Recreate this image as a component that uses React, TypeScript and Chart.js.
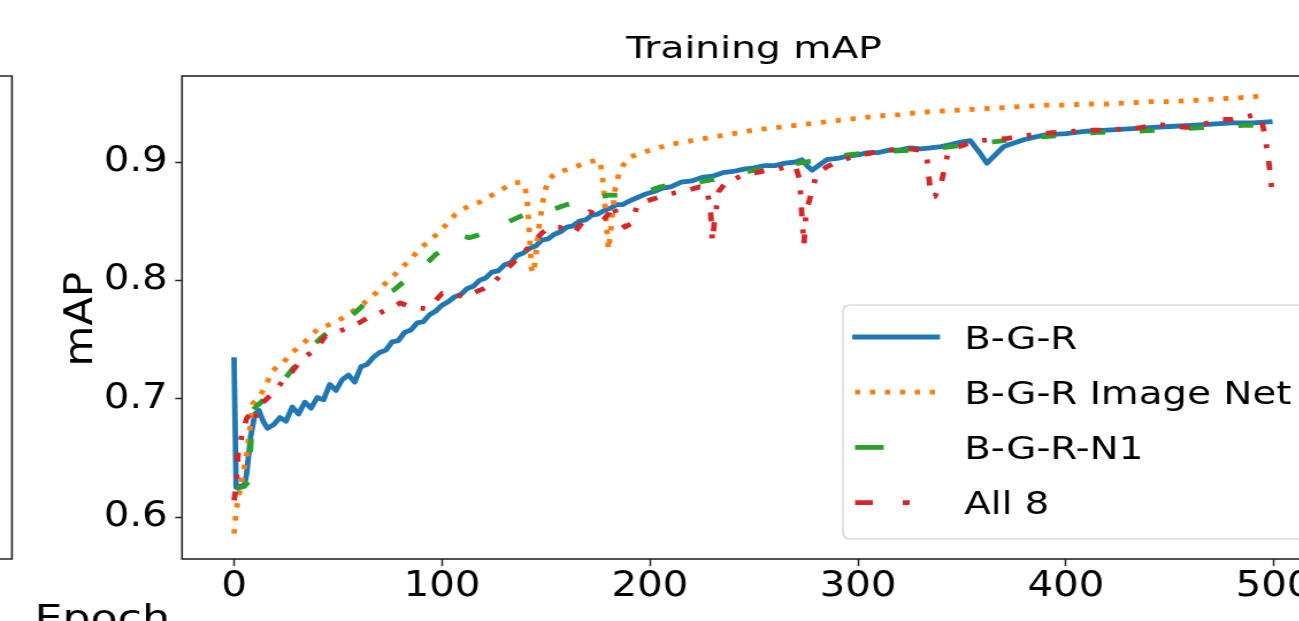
import React, { useEffect, useRef } from "react";
import { Chart, registerables } from "chart.js";

Chart.register(...registerables);

// ---------- data ----------
const chartTitle = "Training mAP";
const yAxisLabel = "mAP";
const neighbourXLabel = "Epoch";
const xTickValues = [0, 100, 200, 300, 400, 500];
const yTickValues = [0.6, 0.7, 0.8, 0.9];
const seriesNames = ["B-G-R", "B-G-R Image Net", "B-G-R-N1", "All 8"];
const seriesColors = ["#1f77b4", "#ff7f0e", "#2ca02c", "#d62728"];

// [epoch, mAP]
const bgr: [number, number][] = [
  [0, 0.733], [1, 0.625], [3, 0.626], [5, 0.627], [6, 0.636], [8, 0.668], [10, 0.687], [12, 0.69],
  [14, 0.681], [16, 0.675], [19, 0.678], [22, 0.684], [25, 0.681], [28, 0.693], [31, 0.687], [34, 0.697],
  [37, 0.692], [40, 0.701], [43, 0.699], [46, 0.712], [49, 0.707], [52, 0.716], [55, 0.72], [58, 0.714],
  [61, 0.727], [64, 0.729], [67, 0.735], [70, 0.739], [73, 0.741], [76, 0.748], [79, 0.749], [82, 0.756],
  [85, 0.758], [88, 0.764], [91, 0.765], [94, 0.771], [97, 0.774], [100, 0.779], [103, 0.782], [106, 0.786],
  [109, 0.788], [112, 0.793], [115, 0.795], [118, 0.8], [121, 0.802], [124, 0.807], [127, 0.808], [130, 0.813],
  [133, 0.815], [136, 0.821], [139, 0.823], [142, 0.827], [145, 0.829], [148, 0.834], [151, 0.835], [154, 0.839],
  [157, 0.841], [160, 0.845], [163, 0.846], [166, 0.85], [169, 0.851], [172, 0.855], [175, 0.856], [178, 0.859],
  [181, 0.861], [184, 0.864], [187, 0.864], [190, 0.867], [194, 0.87], [198, 0.873], [202, 0.875], [206, 0.878],
  [210, 0.879], [215, 0.883], [220, 0.884], [225, 0.887], [230, 0.888], [235, 0.891], [240, 0.892], [245, 0.894],
  [250, 0.895], [255, 0.897], [260, 0.897], [265, 0.899], [270, 0.9], [273, 0.902], [276, 0.896], [278, 0.893],
  [281, 0.897], [285, 0.902], [290, 0.903], [295, 0.905], [300, 0.906], [305, 0.908], [310, 0.908], [315, 0.91],
  [320, 0.91], [325, 0.912], [330, 0.911], [335, 0.912], [340, 0.913], [345, 0.915], [350, 0.917], [354, 0.918],
  [358, 0.909], [362, 0.899], [366, 0.906], [370, 0.913], [375, 0.916], [380, 0.919], [385, 0.921], [390, 0.923],
  [400, 0.924], [410, 0.926], [420, 0.927], [430, 0.928], [440, 0.929], [450, 0.93], [460, 0.931], [470, 0.932],
  [480, 0.933], [490, 0.933], [498, 0.934],
];

const bgrImageNet: [number, number][] = [
  [0, 0.586], [1, 0.605], [2, 0.615], [4, 0.634], [6, 0.652], [8, 0.68], [9, 0.696], [12, 0.701],
  [15, 0.71], [18, 0.722], [21, 0.728], [24, 0.731], [27, 0.738], [30, 0.742], [34, 0.748], [38, 0.755],
  [41, 0.76], [45, 0.762], [50, 0.766], [54, 0.77], [58, 0.775], [62, 0.78], [66, 0.786], [70, 0.792],
  [74, 0.8], [78, 0.806], [82, 0.813], [86, 0.82], [90, 0.828], [94, 0.833], [98, 0.84], [102, 0.847],
  [106, 0.855], [110, 0.86], [114, 0.864], [118, 0.866], [122, 0.87], [126, 0.874], [130, 0.878], [134, 0.882],
  [138, 0.883], [140, 0.878], [141, 0.865], [142, 0.84], [143, 0.81], [144, 0.806], [145, 0.82], [147, 0.85],
  [149, 0.872], [151, 0.885], [155, 0.891], [159, 0.893], [163, 0.895], [167, 0.898], [171, 0.9], [175, 0.902],
  [176, 0.9], [177, 0.89], [178, 0.872], [179, 0.848], [180, 0.826], [181, 0.84], [183, 0.875], [185, 0.89],
  [187, 0.897], [190, 0.904], [195, 0.907], [200, 0.91], [210, 0.915], [220, 0.918], [230, 0.921], [240, 0.924],
  [250, 0.927], [260, 0.929], [270, 0.931], [280, 0.933], [290, 0.935], [300, 0.937], [310, 0.939], [320, 0.94],
  [330, 0.942], [340, 0.943], [350, 0.944], [360, 0.945], [370, 0.946], [380, 0.947], [390, 0.948], [400, 0.948],
  [410, 0.949], [420, 0.949], [430, 0.95], [440, 0.951], [450, 0.951], [460, 0.952], [470, 0.953], [480, 0.954],
  [490, 0.955], [497, 0.957],
];

const bgrN1: [number, number][] = [
  [1, 0.624], [3, 0.625], [5, 0.626], [7, 0.63], [8, 0.66], [9, 0.69], [11, 0.694], [13, 0.697],
  [17, 0.705], [21, 0.712], [25, 0.718], [29, 0.727], [33, 0.736], [37, 0.743], [41, 0.75], [45, 0.756],
  [49, 0.76], [53, 0.766], [57, 0.771], [61, 0.777], [65, 0.785], [69, 0.788], [73, 0.789], [77, 0.792],
  [81, 0.798], [85, 0.803], [89, 0.809], [93, 0.815], [97, 0.822], [101, 0.826], [105, 0.83], [109, 0.838],
  [113, 0.836], [117, 0.838], [121, 0.841], [125, 0.846], [130, 0.848], [135, 0.852], [140, 0.856], [145, 0.855],
  [150, 0.858], [155, 0.861], [160, 0.864], [165, 0.866], [170, 0.868], [175, 0.87], [180, 0.872], [185, 0.872],
  [190, 0.873], [195, 0.874], [200, 0.876], [205, 0.879], [210, 0.881], [220, 0.882], [230, 0.885], [240, 0.889],
  [250, 0.893], [260, 0.895], [268, 0.898], [275, 0.9], [285, 0.903], [295, 0.906], [305, 0.908], [315, 0.909],
  [325, 0.91], [335, 0.911], [345, 0.913], [355, 0.915], [365, 0.917], [375, 0.919], [385, 0.921], [395, 0.922],
  [405, 0.923], [415, 0.925], [425, 0.925], [435, 0.926], [445, 0.927], [455, 0.928], [465, 0.929], [475, 0.93],
  [485, 0.931], [497, 0.931],
];

const all8: [number, number][] = [
  [0, 0.614], [1, 0.625], [2, 0.655], [4, 0.671], [6, 0.683], [8, 0.688], [10, 0.682], [12, 0.694],
  [14, 0.697], [17, 0.702], [20, 0.707], [23, 0.714], [26, 0.72], [28, 0.723], [31, 0.73], [34, 0.735],
  [37, 0.739], [41, 0.746], [44, 0.753], [48, 0.755], [52, 0.758], [56, 0.761], [60, 0.764], [64, 0.768],
  [68, 0.771], [72, 0.774], [76, 0.777], [80, 0.781], [84, 0.778], [88, 0.777], [92, 0.776], [96, 0.781],
  [100, 0.789], [104, 0.788], [108, 0.787], [112, 0.786], [116, 0.79], [120, 0.793], [124, 0.797], [128, 0.804],
  [132, 0.811], [136, 0.818], [140, 0.825], [144, 0.832], [148, 0.84], [152, 0.845], [156, 0.845], [160, 0.843],
  [164, 0.841], [167, 0.848], [171, 0.858], [174, 0.856], [177, 0.85], [180, 0.856], [182, 0.864], [185, 0.852],
  [188, 0.845], [191, 0.848], [194, 0.864], [200, 0.868], [206, 0.871], [212, 0.874], [218, 0.876], [224, 0.879],
  [227, 0.878], [229, 0.862], [230, 0.833], [231, 0.85], [233, 0.875], [237, 0.884], [241, 0.886], [246, 0.89],
  [251, 0.891], [256, 0.893], [261, 0.894], [266, 0.896], [270, 0.896], [272, 0.885], [273, 0.855], [274, 0.83],
  [275, 0.858], [277, 0.87], [280, 0.889], [285, 0.896], [290, 0.9], [295, 0.903], [300, 0.906], [305, 0.907],
  [310, 0.909], [315, 0.91], [320, 0.911], [325, 0.911], [330, 0.91], [333, 0.906], [335, 0.872], [337, 0.871],
  [340, 0.882], [343, 0.906], [347, 0.912], [352, 0.915], [358, 0.918], [365, 0.919], [372, 0.92], [380, 0.922],
  [388, 0.924], [396, 0.925], [404, 0.926], [412, 0.927], [420, 0.927], [428, 0.928], [436, 0.929], [444, 0.932],
  [452, 0.93], [460, 0.929], [468, 0.933], [474, 0.936], [480, 0.936], [486, 0.938], [491, 0.94], [494, 0.936],
  [496, 0.919], [498, 0.893], [499, 0.876],
];

// ---------- styling / layout ----------
const FONT = "'DejaVu Sans', sans-serif";
const STRETCH = 1.15; // reference image is stretched horizontally
const CANVAS_W = 1160;
const CANVAS_H = 621;
const LINE_W = 4.8;
const plotDashes: number[][] = [[], [4.5, 8.5], [13, 30], [9, 13, 4, 13]];
const legendDashes: number[][] = [[], [4.5, 8.5], [25, 80], [15.5, 26, 6, 60]];

// draw text widened along its reading direction
function wideText(ctx: any, text: string, x: number, y: number, size: number, sx: number, align: string, rot = 0) {
  ctx.save();
  ctx.translate(x, y);
  if (rot) ctx.rotate(rot);
  ctx.scale(sx, 1);
  ctx.font = `${size}px ${FONT}`;
  ctx.textAlign = align;
  ctx.fillStyle = "#000000";
  ctx.fillText(text, 0, 0);
  ctx.restore();
}

const decorPlugin = {
  id: "decor",
  beforeDraw(chart: any) {
    const { ctx, width, height } = chart;
    ctx.save();
    ctx.fillStyle = "#ffffff";
    ctx.fillRect(0, 0, width, height);
    ctx.restore();
  },
  afterDatasetsDraw(chart: any) {
    const { ctx, chartArea: a } = chart;
    ctx.save();
    // axes frame
    ctx.strokeStyle = "#262626";
    ctx.lineWidth = 1.6;
    ctx.strokeRect(a.left, a.top, a.right - a.left, a.bottom - a.top);
    // neighbouring subplot's right edge
    ctx.beginPath();
    ctx.moveTo(-5, a.top);
    ctx.lineTo(10.4, a.top);
    ctx.lineTo(10.4, a.bottom);
    ctx.lineTo(-5, a.bottom);
    ctx.stroke();

    // legend
    const bx = 733, by = 305, bw = 500, bh = 234, r = 6;
    ctx.beginPath();
    ctx.moveTo(bx + r, by);
    ctx.lineTo(bx + bw - r, by);
    ctx.arcTo(bx + bw, by, bx + bw, by + r, r);
    ctx.lineTo(bx + bw, by + bh - r);
    ctx.arcTo(bx + bw, by + bh, bx + bw - r, by + bh, r);
    ctx.lineTo(bx + r, by + bh);
    ctx.arcTo(bx, by + bh, bx, by + bh - r, r);
    ctx.lineTo(bx, by + r);
    ctx.arcTo(bx, by, bx + r, by, r);
    ctx.closePath();
    ctx.fillStyle = "rgba(255,255,255,0.8)";
    ctx.fill();
    ctx.strokeStyle = "#cccccc";
    ctx.lineWidth = 1.2;
    ctx.stroke();

    ctx.textBaseline = "alphabetic";
    seriesNames.forEach((name, i) => {
      const cy = 337 + i * 55.2;
      ctx.beginPath();
      ctx.setLineDash(legendDashes[i]);
      ctx.lineCap = i === 0 ? "square" : "butt";
      ctx.strokeStyle = seriesColors[i];
      ctx.lineWidth = LINE_W;
      ctx.moveTo(743.5, cy);
      ctx.lineTo(815, cy);
      ctx.stroke();
      ctx.setLineDash([]);
      wideText(ctx, name, 838.5, cy + 11.8, 31.5, 1.07, "left");
    });

    // title
    wideText(ctx, chartTitle, (a.left + a.right) / 2, 57.5, 31, 1.1, "center");
    // y axis label (rotated)
    ctx.textBaseline = "middle";
    wideText(ctx, yAxisLabel, 71.5, 319, 33, 1.27, "center", -Math.PI / 2);
    // neighbouring subplot's x label (cut off)
    ctx.textBaseline = "alphabetic";
    wideText(ctx, neighbourXLabel, 30, 630, 35, 1.1, "left");
    ctx.restore();
  },
};

const toPoints = (arr: [number, number][]) => arr.map(([x, y]) => ({ x, y }));

export default function App() {
  const canvasRef = useRef<HTMLCanvasElement | null>(null);

  useEffect(() => {
    const canvas = canvasRef.current;
    if (!canvas) return;
    const seriesData = [bgr, bgrImageNet, bgrN1, all8];
    const chart = new Chart(canvas, {
      type: "line",
      data: {
        datasets: seriesData.map((d, i) => ({
          label: seriesNames[i],
          data: toPoints(d),
          borderColor: seriesColors[i],
          backgroundColor: seriesColors[i],
          borderWidth: LINE_W,
          borderDash: plotDashes[i],
          borderCapStyle: i === 0 ? "square" : "butt",
          borderJoinStyle: "round",
          pointRadius: 0,
          fill: false,
          tension: 0,
          order: 3 - i,
        })),
      },
      options: {
        animation: false,
        responsive: false,
        devicePixelRatio: 1,
        layout: { padding: { left: 0, right: 7, top: 76, bottom: 0 } },
        plugins: {
          legend: { display: false },
          title: { display: false },
          tooltip: { enabled: false },
        },
        scales: {
          x: {
            type: "linear",
            min: -25,
            max: 525,
            afterBuildTicks: (s: any) => {
              s.ticks = xTickValues.map((v) => ({ value: v }));
            },
            afterFit: (s: any) => {
              s.height = 62;
            },
            border: { display: false },
            grid: {
              drawOnChartArea: false,
              drawTicks: true,
              tickLength: 7,
              tickColor: "#262626",
              tickWidth: 1.5,
            },
            ticks: {
              padding: 0,
              color: "#000000",
              font: { family: FONT, size: 35 },
              maxRotation: 0,
              minRotation: 0,
              autoSkip: false,
              callback: (v: any) => String(v),
            },
          },
          y: {
            type: "linear",
            min: 0.56451,
            max: 0.97268,
            afterBuildTicks: (s: any) => {
              s.ticks = yTickValues.map((v) => ({ value: v }));
            },
            afterFit: (s: any) => {
              s.width = 158.3;
            },
            border: { display: false },
            grid: {
              drawOnChartArea: false,
              drawTicks: true,
              tickLength: 6,
              tickColor: "#262626",
              tickWidth: 1.5,
            },
            ticks: {
              padding: 6.5,
              color: "#000000",
              font: { family: FONT, size: 35 },
              autoSkip: false,
              callback: (v: any) => Number(v).toFixed(1),
            },
            title: { display: false },
          },
        },
      },
      plugins: [decorPlugin],
    } as any);
    return () => chart.destroy();
  }, []);

  return (
    <div
      style={{
        position: "fixed",
        left: 0,
        top: 0,
        width: 1299,
        height: 621,
        overflow: "hidden",
        background: "#ffffff",
      }}
    >
      <canvas
        ref={canvasRef}
        width={CANVAS_W}
        height={CANVAS_H}
        style={{
          display: "block",
          transform: `scaleX(${STRETCH})`,
          transformOrigin: "0 0",
        }}
      />
    </div>
  );
}
